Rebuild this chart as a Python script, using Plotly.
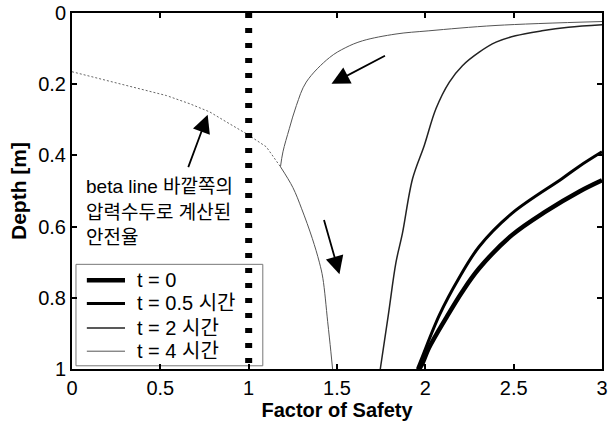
import plotly.graph_objects as go

# ---- data ----
fs_t0 = [1.965, 1.98, 2.02, 2.117, 2.21, 2.305, 2.49, 2.68, 2.87, 3.0]
d_t0 = [1.0, 0.988, 0.941, 0.857, 0.782, 0.717, 0.624, 0.558, 0.502, 0.47]

fs_t05 = [1.955, 1.98, 2.08, 2.19, 2.305, 2.49, 2.775, 2.87, 3.0]
d_t05 = [1.0, 0.969, 0.848, 0.745, 0.656, 0.563, 0.465, 0.431, 0.39]

fs_t2 = [1.745, 1.79, 1.834, 1.87, 1.928, 1.994, 2.06, 2.136, 2.21, 2.305, 2.4, 2.51, 2.66, 2.81, 3.0]
d_t2 = [1.0, 0.85, 0.70, 0.62, 0.465, 0.372, 0.269, 0.194, 0.148, 0.11, 0.082, 0.064, 0.05, 0.04, 0.033]

fs_t4_upper = [3.0, 2.4, 2.02, 1.834, 1.645, 1.55, 1.458, 1.326, 1.27, 1.23, 1.194, 1.18]
d_t4_upper = [0.024, 0.035, 0.05, 0.059, 0.078, 0.097, 0.125, 0.194, 0.26, 0.325, 0.39, 0.432]
fs_t4_lower = [1.18, 1.25, 1.30, 1.36, 1.40, 1.42, 1.447, 1.465, 1.475]
d_t4_lower = [0.432, 0.49, 0.55, 0.633, 0.70, 0.745, 0.866, 0.95, 1.0]

fs_beta = [0.0, 0.196, 0.384, 0.535, 0.667, 0.78, 0.874, 0.987, 1.1, 1.18]
d_beta = [0.165, 0.19, 0.213, 0.232, 0.255, 0.278, 0.306, 0.339, 0.376, 0.432]

fs_limit = [1, 1]
d_limit = [0, 1]

x_ticks = [0, 0.5, 1, 1.5, 2, 2.5, 3]
x_ticklabels = ["0", "0.5", "1", "1.5", "2", "2.5", "3"]
y_ticks = [0, 0.2, 0.4, 0.6, 0.8, 1]
y_ticklabels = ["0", "0.2", "0.4", "0.6", "0.8", "1"]

labels = ["t = 0", "t = 0.5 시간", "t = 2 시간", "t = 4 시간"]
note_lines = ["beta line 바깥쪽의", "압력수두로 계산된", "안전율"]

FONT = "Liberation Sans, Arial, Noto Sans CJK KR, sans-serif"

styles = [dict(color="black", width=4.5), dict(color="black", width=3),
          dict(color="#222222", width=1.5), dict(color="#555555", width=1)]

fig = go.Figure()

fig.add_trace(go.Scatter(x=fs_beta, y=d_beta, mode="lines", showlegend=False,
                         line=dict(color="#666666", width=1, dash="2px,2px")))
fig.add_trace(go.Scatter(x=fs_t0, y=d_t0, mode="lines", name=labels[0], line_shape="spline",
                         showlegend=False, line=styles[0]))
fig.add_trace(go.Scatter(x=fs_t05, y=d_t05, mode="lines", name=labels[1], line_shape="spline",
                         showlegend=False, line=styles[1]))
fig.add_trace(go.Scatter(x=fs_t2, y=d_t2, mode="lines", name=labels[2], line_shape="spline",
                         showlegend=False, line=styles[2]))
fig.add_trace(go.Scatter(x=fs_t4_upper, y=d_t4_upper, mode="lines", name=labels[3], line_shape="spline",
                         showlegend=False, line=styles[3]))
fig.add_trace(go.Scatter(x=fs_t4_lower, y=d_t4_lower, mode="lines", name=labels[3], line_shape="spline",
                         showlegend=False, line=styles[3]))
fig.add_trace(go.Scatter(x=fs_limit, y=d_limit, mode="lines", showlegend=False,
                         line=dict(color="black", width=7, dash="5px,10px")))

# arrows
arrows = [
    dict(x=0.768, y=0.286, ax=0.655, ay=0.437),
    dict(x=1.469, y=0.199, ax=1.78, ay=0.118),
    dict(x=1.514, y=0.734, ax=1.424, ay=0.577),
]
for a in arrows:
    fig.add_annotation(x=a["x"], y=a["y"], ax=a["ax"], ay=a["ay"], xref="x", yref="y",
                       axref="x", ayref="y", text="", showarrow=True, arrowhead=2,
                       arrowsize=2.0, arrowwidth=1.8, arrowcolor="black")

note_y = [0.487, 0.56, 0.63]
for t, yy in zip(note_lines, note_y):
    fig.add_annotation(x=0.07, y=yy, xref="x", yref="y", text=t, showarrow=False,
                       xanchor="left", yanchor="middle",
                       font=dict(family=FONT, size=19, color="black"))

# legend box (drawn in paper coordinates, transparent like the reference)
fig.add_shape(type="rect", xref="paper", yref="paper", x0=0.0075, x1=0.36, y0=0.009, y1=0.294,
              line=dict(color="#777777", width=1), fillcolor="rgba(0,0,0,0)", layer="below")
leg_y = [0.249, 0.184, 0.115, 0.050]
for lab, st, yy in zip(labels, styles, leg_y):
    fig.add_shape(type="line", xref="paper", yref="paper", x0=0.028, x1=0.1, y0=yy, y1=yy,
                  line=st, layer="above")
    fig.add_annotation(x=0.119, y=yy, xref="paper", yref="paper", text=lab, showarrow=False,
                       xanchor="left", yanchor="middle",
                       font=dict(family=FONT, size=20, color="black"))

axis_common = dict(showline=True, linecolor="black", linewidth=2, mirror="ticks",
                   ticks="inside", ticklen=5, tickwidth=1.5, tickcolor="black",
                   showgrid=False, zeroline=False,
                   tickfont=dict(family=FONT, size=20, color="black"))

fig.update_xaxes(range=[0, 3], tickvals=x_ticks, ticktext=x_ticklabels,
                 title=dict(text="<b>Factor of Safety</b>", standoff=7,
                            font=dict(family=FONT, size=20, color="black")),
                 **axis_common)
fig.update_yaxes(range=[1, 0], tickvals=y_ticks, ticktext=y_ticklabels,
                 title=dict(text="<b>Depth [m]</b>", standoff=6,
                            font=dict(family=FONT, size=21, color="black")),
                 **axis_common)

fig.update_layout(
    width=616, height=421,
    margin=dict(l=72, r=14, t=13, b=52, autoexpand=False),
    paper_bgcolor="white", plot_bgcolor="white",
    showlegend=False,
)

fig.write_html("out.html", config={"displayModeBar": False},
               post_script="document.body.style.margin='0';document.body.style.overflow='hidden';")
